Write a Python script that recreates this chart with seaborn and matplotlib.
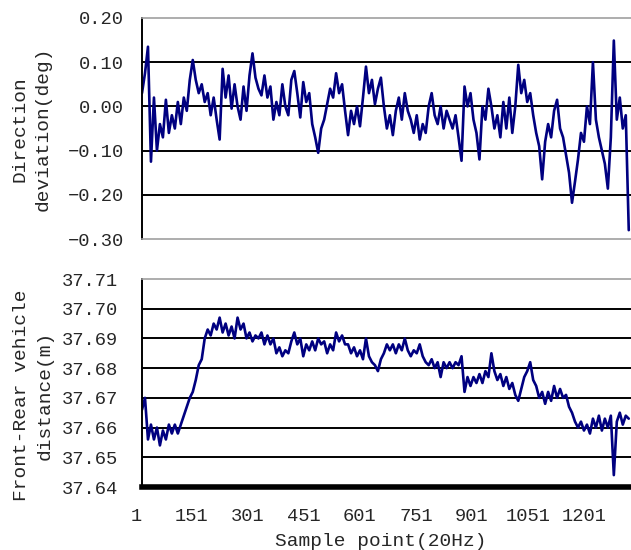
import matplotlib
matplotlib.use("Agg")
import matplotlib.pyplot as plt
import matplotlib.transforms as mtransforms
import seaborn as sns

# sample index of each reading (20 Hz)
samples = list(range(1, 1306, 8))

direction_dev = [
    0.03, 0.075, 0.135, -0.125, 0.02, -0.10, -0.04, -0.07, 0.015, -0.06,
    -0.02, -0.05, 0.01, -0.04, 0.02, -0.01, 0.06, 0.105, 0.06, 0.03,
    0.05, 0.01, 0.03, -0.02, 0.02, -0.03, -0.075, 0.085, 0.02, 0.07,
    -0.005, 0.05, 0.0, -0.03, 0.045, -0.01, 0.07, 0.12, 0.065, 0.04,
    0.025, 0.07, 0.02, 0.045, -0.03, 0.01, -0.02, 0.05, 0.0, -0.02,
    0.06, 0.08, 0.03, -0.025, 0.055, 0.01, 0.03, -0.04, -0.07, -0.105,
    -0.05, -0.03, 0.005, 0.04, 0.02, 0.075, 0.03, 0.05, -0.01, -0.065,
    -0.01, -0.04, 0.0, -0.045, 0.02, 0.09, 0.03, 0.06, 0.005, 0.04,
    0.065, 0.0, -0.05, -0.02, -0.065, -0.01, 0.02, -0.03, 0.03, -0.01,
    -0.03, -0.06, -0.02, -0.075, -0.04, -0.06, 0.0, 0.03, -0.02, -0.04,
    0.0, -0.05, -0.01, -0.03, -0.05, -0.02, -0.07, -0.123, 0.045, 0.0,
    0.03, -0.03, -0.06, -0.12, 0.0, -0.03, 0.04, 0.0, -0.05, -0.02,
    -0.07, 0.01, -0.05, 0.02, -0.06, 0.0, 0.094, 0.03, 0.06, 0.01,
    0.03, -0.02, -0.06, -0.09, -0.165, -0.08, -0.04, -0.07, -0.01, 0.015,
    -0.05, -0.07, -0.11, -0.15, -0.218, -0.17, -0.12, -0.06, -0.08, 0.0,
    -0.04, 0.1, -0.03, -0.07, -0.10, -0.13, -0.186, -0.07, 0.149, -0.03,
    0.02, -0.05, -0.02, -0.28,
]

distance = [
    37.666, 37.670, 37.656, 37.661, 37.656, 37.660, 37.654, 37.659, 37.656, 37.661,
    37.658, 37.661, 37.658, 37.661, 37.664, 37.667, 37.670, 37.672, 37.676, 37.681,
    37.683, 37.690, 37.693, 37.691, 37.695, 37.693, 37.697, 37.692, 37.695, 37.691,
    37.694, 37.690, 37.697, 37.693, 37.695, 37.690, 37.692, 37.689, 37.691, 37.690,
    37.692, 37.688, 37.691, 37.688, 37.690, 37.685, 37.687, 37.684, 37.686, 37.685,
    37.689, 37.692, 37.688, 37.690, 37.684, 37.688, 37.686, 37.689, 37.686, 37.690,
    37.688, 37.689, 37.685, 37.688, 37.686, 37.692, 37.689, 37.691, 37.688, 37.688,
    37.685, 37.687, 37.684, 37.686, 37.683, 37.690, 37.684, 37.682, 37.681, 37.679,
    37.683, 37.685, 37.688, 37.686, 37.688, 37.685, 37.688, 37.686, 37.690, 37.686,
    37.684, 37.686, 37.685, 37.688, 37.684, 37.682, 37.681, 37.683, 37.680, 37.682,
    37.677, 37.682, 37.680, 37.682, 37.680, 37.682, 37.681, 37.684, 37.672, 37.677,
    37.674, 37.677, 37.675, 37.678, 37.675, 37.679, 37.677, 37.685, 37.679, 37.676,
    37.678, 37.674, 37.677, 37.673, 37.675, 37.671, 37.669, 37.673, 37.677, 37.679,
    37.682, 37.676, 37.674, 37.670, 37.672, 37.668, 37.672, 37.669, 37.674, 37.670,
    37.673, 37.670, 37.671, 37.667, 37.665, 37.662, 37.660, 37.662, 37.659, 37.661,
    37.658, 37.663, 37.660, 37.664, 37.659, 37.663, 37.660, 37.664, 37.644, 37.662,
    37.665, 37.661, 37.664, 37.663,
]

x_ticks = [1, 151, 301, 451, 601, 751, 901, 1051, 1201]
dir_ticks = [-0.30, -0.20, -0.10, 0.00, 0.10, 0.20]
dist_ticks = [37.64, 37.65, 37.66, 37.67, 37.68, 37.69, 37.70, 37.71]

sns.set_style("white")
plt.rcParams['font.family'] = ['Liberation Mono', 'DejaVu Sans Mono']

W, H = 631, 550
fig = plt.figure(figsize=(W / 100, H / 100), dpi=100)
ax1 = fig.add_axes([142 / W, 1 - 239 / H, 489 / W, 221 / H])
ax2 = fig.add_axes([142 / W, 1 - 487 / H, 489 / W, 208 / H])

line_color = "#000080"
sns.lineplot(x=samples, y=direction_dev, ax=ax1, color=line_color, linewidth=1.9)
sns.lineplot(x=samples, y=distance, ax=ax2, color=line_color, linewidth=1.9)


def fmt(v):
    return f"{v:.2f}".replace("-", "\u2212")


for ax, ticks in ((ax1, dir_ticks), (ax2, dist_ticks)):
    ax.set_xlim(1, 1311)
    ax.set_ylim(ticks[0], ticks[-1])
    ax.set_yticks(ticks)
    ax.set_yticklabels([fmt(t) for t in ticks], fontsize=13.5)
    ax.set_xlabel("")
    ax.set_ylabel("")
    ax.yaxis.grid(True, color="black", linewidth=1.4)
    gl = ax.get_ygridlines()
    gl[0].set_visible(False)
    gl[-1].set_visible(False)
    ax.spines["right"].set_visible(False)
    ax.spines["top"].set_color("#a0a0a0")
    ax.spines["top"].set_linewidth(1.2)
    ax.spines["left"].set_color("black")
    ax.spines["left"].set_linewidth(1.4)
    ax.tick_params(axis="y", direction="out", length=3, width=1.2, color="black")

ax1.tick_params(axis="y", pad=10)
ax2.tick_params(axis="y", pad=14)

ax1.set_xticks([])
ax1.spines["bottom"].set_color("#a0a0a0")
ax1.spines["bottom"].set_linewidth(1.2)

ax2.set_xticks(x_ticks)
ax2.set_xticklabels([str(t) for t in x_ticks], fontsize=13.5)
ax2.tick_params(axis="x", length=0, pad=15)
ax2.spines["bottom"].set_color("black")
ax2.spines["bottom"].set_linewidth(4)
shift = mtransforms.ScaledTranslation(-6 / 100, 0, fig.dpi_scale_trans)
for lab in ax2.get_xticklabels():
    lab.set_transform(lab.get_transform() + shift)

fig.text(31.5 / W, 1 - 129 / H, "Direction\ndeviation(deg)", rotation=90,
         ha="center", va="center", multialignment="center", fontsize=14,
         linespacing=1.5)
fig.text(33.5 / W, 1 - 395 / H, "Front-Rear vehicle\ndistance(m)", rotation=90,
         ha="center", va="center", multialignment="center", fontsize=14,
         linespacing=1.5)
fig.text(381 / W, 1 - 541 / H, "Sample point(20Hz)", ha="center", va="center",
         fontsize=14)

fig.savefig("out.png", dpi=100)
